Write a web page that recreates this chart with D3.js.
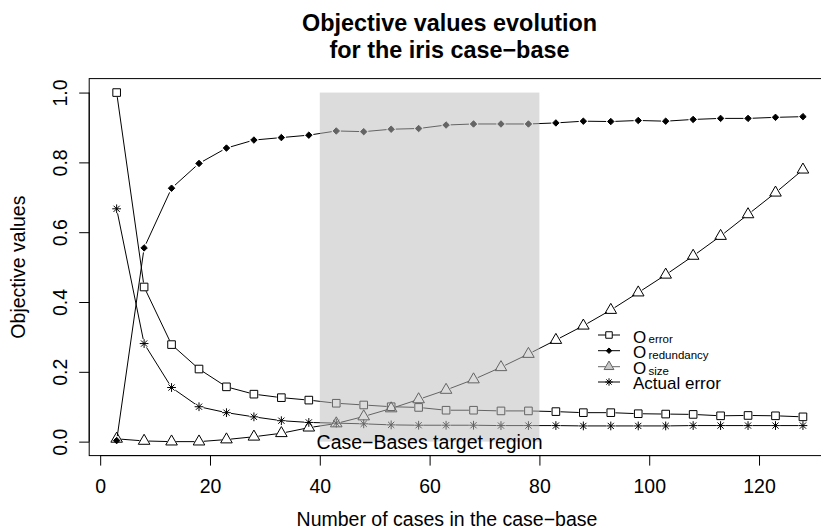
<!DOCTYPE html>
<html>
<head>
<meta charset="utf-8">
<script src="https://cdn.jsdelivr.net/npm/d3@7"></script>
<style>
  body { margin: 0; background: #fff; }
  svg { display: block; }
  text { font-family: "Liberation Sans", Arial, Helvetica, sans-serif; fill: #000; }
</style>
</head>
<body>
<svg id="chart" width="821" height="530"></svg>
<script>
// Case-base sizes evaluated
const caseCounts = [3, 8, 13, 18, 23, 28, 33, 38, 43, 48, 53, 58, 63, 68, 73, 78, 83, 88, 93, 98, 103, 108, 113, 118, 123, 128];

// Objective values per case-base size
const oError = [1.000, 0.443, 0.278, 0.208, 0.157, 0.136, 0.126, 0.119, 0.110, 0.105, 0.100, 0.098, 0.090, 0.090, 0.088, 0.088, 0.086, 0.083, 0.083, 0.080, 0.079, 0.078, 0.074, 0.075, 0.074, 0.071];
const oRedundancy = [0.003, 0.555, 0.726, 0.797, 0.841, 0.864, 0.871, 0.878, 0.890, 0.888, 0.895, 0.897, 0.907, 0.910, 0.910, 0.910, 0.913, 0.918, 0.917, 0.920, 0.918, 0.923, 0.926, 0.926, 0.929, 0.931];
const oSize = [0.008, 0.002, 0.000, 0.000, 0.006, 0.014, 0.024, 0.040, 0.052, 0.072, 0.095, 0.121, 0.148, 0.178, 0.213, 0.251, 0.291, 0.332, 0.377, 0.427, 0.478, 0.532, 0.589, 0.651, 0.713, 0.779];
const actualError = [0.667, 0.281, 0.155, 0.100, 0.083, 0.071, 0.060, 0.055, 0.053, 0.051, 0.048, 0.047, 0.047, 0.047, 0.046, 0.046, 0.046, 0.045, 0.045, 0.045, 0.045, 0.046, 0.046, 0.046, 0.046, 0.046];

// Axes
const xTicks = [0, 20, 40, 60, 80, 100, 120];
const yTicks = [0.0, 0.2, 0.4, 0.6, 0.8, 1.0];
const xDomain = [-2, 133];
const yDomain = [-0.04, 1.04];

// Highlighted band
const targetRegionX = [40, 80];
const targetRegionY = [0, 1];
const targetRegionLabel = "Case\u2212Bases target region";

const titleLines = ["Objective values evolution", "for the iris case\u2212base"];
const xLabel = "Number of cases in the case\u2212base";
const yLabel = "Objective values";

const seriesDefs = [
  { key: "error", values: oError, shape: "square", main: "O", sub: "error" },
  { key: "redundancy", values: oRedundancy, shape: "diamond", main: "O", sub: "redundancy" },
  { key: "size", values: oSize, shape: "triangle", main: "O", sub: "size" },
  { key: "actual", values: actualError, shape: "asterisk", main: "Actual error", sub: null }
];

const svg = d3.select("#chart");

const x = d3.scaleLinear().domain(xDomain).range([89.2, 830.4]);
const y = d3.scaleLinear().domain(yDomain).range([455.6, 78.6]);

const R = 4.3; // base symbol radius

function symbolPath(shape, cx, cy, k = 1) {
  const r = R * k;
  if (shape === "square") {
    const h = r * 0.886;
    return `M${cx - h},${cy - h}H${cx + h}V${cy + h}H${cx - h}Z`;
  }
  if (shape === "triangle") {
    const top = r * 1.555, bot = r * 0.778, hw = r * 1.347;
    return `M${cx},${cy - top}L${cx + hw},${cy + bot}L${cx - hw},${cy + bot}Z`;
  }
  if (shape === "diamond") {
    const d = r * 0.75;
    return `M${cx},${cy - d}L${cx + d},${cy}L${cx},${cy + d}L${cx - d},${cy}Z`;
  }
  // asterisk: diagonal cross plus upright cross
  const a = r * 0.72, b = a * Math.SQRT2;
  return `M${cx - a},${cy - a}L${cx + a},${cy + a}M${cx - a},${cy + a}L${cx + a},${cy - a}` +
         `M${cx - b},${cy}L${cx + b},${cy}M${cx},${cy - b}L${cx},${cy + b}`;
}

function drawSymbol(g, shape, cx, cy, k = 1, stroke = "#000", fill = "none") {
  g.append("path")
    .attr("d", symbolPath(shape, cx, cy, k))
    .attr("fill", shape === "diamond" ? stroke : fill)
    .attr("stroke", stroke)
    .attr("stroke-width", 1);
}

// Series: segments with small gaps around each point, then the symbols
const plot = svg.append("g");
const gap = 4.6;
seriesDefs.forEach(s => {
  const pts = caseCounts.map((c, i) => [x(c), y(s.values[i])]);
  const g = plot.append("g");
  for (let i = 0; i < pts.length - 1; i++) {
    const [x0, y0] = pts[i], [x1, y1] = pts[i + 1];
    const len = Math.hypot(x1 - x0, y1 - y0);
    if (len <= 2 * gap) continue;
    const ux = (x1 - x0) / len, uy = (y1 - y0) / len;
    g.append("line")
      .attr("x1", x0 + ux * gap).attr("y1", y0 + uy * gap)
      .attr("x2", x1 - ux * gap).attr("y2", y1 - uy * gap)
      .attr("stroke", "#000").attr("stroke-width", 1);
  }
  pts.forEach(([px, py]) => drawSymbol(g, s.shape, px, py));
});

// Translucent band over the target region
svg.append("rect")
  .attr("x", x(targetRegionX[0]))
  .attr("y", y(targetRegionY[1]))
  .attr("width", x(targetRegionX[1]) - x(targetRegionX[0]))
  .attr("height", y(targetRegionY[0]) - y(targetRegionY[1]))
  .attr("fill", "rgb(189,189,189)")
  .attr("fill-opacity", 0.53);

svg.append("text")
  .attr("x", x((targetRegionX[0] + targetRegionX[1]) / 2))
  .attr("y", 449)
  .attr("text-anchor", "middle")
  .attr("font-size", 19.5)
  .text(targetRegionLabel);

// Plot frame
svg.append("rect")
  .attr("x", x(xDomain[0])).attr("y", y(yDomain[1]))
  .attr("width", x(xDomain[1]) - x(xDomain[0]))
  .attr("height", y(yDomain[0]) - y(yDomain[1]))
  .attr("fill", "none").attr("stroke", "#000").attr("stroke-width", 1);

// X axis
const xAxis = d3.axisBottom(x).tickValues(xTicks).tickSize(10).tickPadding(14)
  .tickFormat(d3.format("d"));
const gx = svg.append("g").attr("transform", `translate(0,${y(yDomain[0])})`).call(xAxis);
gx.select(".domain").attr("d", `M${x(xTicks[0])},0H${x(xTicks[xTicks.length - 1])}`);
gx.selectAll("text").attr("font-size", 19.5).attr("font-family", null).attr("fill", "#000");
gx.selectAll("line, path").attr("stroke", "#000");

// Y axis with labels parallel to the axis
const yAxis = d3.axisLeft(y).tickValues(yTicks).tickSize(10).tickFormat(d3.format(".1f"));
const gy = svg.append("g").attr("transform", `translate(${x(xDomain[0])},0)`).call(yAxis);
gy.select(".domain").attr("d", `M0,${y(yTicks[0])}V${y(yTicks[yTicks.length - 1])}`);
gy.selectAll("line, path").attr("stroke", "#000");
gy.selectAll(".tick text")
  .attr("font-size", 19.5).attr("font-family", null).attr("fill", "#000")
  .attr("x", null).attr("dy", null)
  .attr("text-anchor", "middle")
  .attr("transform", `translate(${66.5 - x(xDomain[0])},0) rotate(-90)`);

// Titles and axis labels
const title = svg.append("text").attr("text-anchor", "middle")
  .attr("font-size", 23.4).attr("font-weight", "bold");
titleLines.forEach((t, i) => {
  title.append("tspan").attr("x", 449.5).attr("y", i === 0 ? 31 : 57.5).text(t);
});

svg.append("text").attr("x", 447).attr("y", 526)
  .attr("text-anchor", "middle").attr("font-size", 19.5).text(xLabel);

svg.append("text")
  .attr("transform", `translate(25,${(y(yDomain[0]) + y(yDomain[1])) / 2}) rotate(-90)`)
  .attr("text-anchor", "middle").attr("font-size", 19.5).text(yLabel);

// Legend
const legend = svg.append("g");
const rowY = [335, 350.7, 366.7, 382];
seriesDefs.forEach((s, i) => {
  const cy = rowY[i];
  const col = s.key === "size" ? "#666" : "#000";
  legend.append("line").attr("x1", 598).attr("x2", 620).attr("y1", cy).attr("y2", cy)
    .attr("stroke", col).attr("stroke-width", 1);
  drawSymbol(legend, s.shape, 609, cy, 0.85, col, s.key === "size" ? "#c8c8c8" : "#fff");
  if (s.sub) {
    legend.append("text").attr("x", 633).attr("y", cy + 7.5)
      .attr("font-size", 17).text(s.main);
    legend.append("text").attr("x", 648.5).attr("y", cy + 8)
      .attr("font-size", 11.5).text(s.sub);
  } else {
    legend.append("text").attr("x", 633).attr("y", cy + 7)
      .attr("font-size", 17).text(s.main);
  }
});
</script>
</body>
</html>
